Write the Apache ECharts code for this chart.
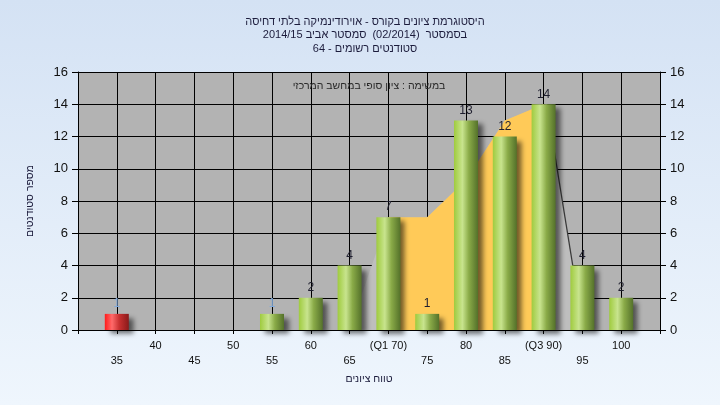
<!DOCTYPE html>
<html>
<head>
<meta charset="utf-8">
<script src="https://cdn.jsdelivr.net/npm/echarts@6/dist/echarts.min.js"></script>
<style>
html,body{margin:0;padding:0;}
#c{width:720px;height:405px;}
</style>
</head>
<body>
<div id="c"></div>
<script>
// ---- data ----
const grades = [35, 40, 45, 50, 55, 60, 65, 70, 75, 80, 85, 90, 95, 100];
const counts = [1, 0, 0, 0, 1, 2, 4, 7, 1, 13, 12, 14, 4, 2];
const tickValues = [35, 40, 45, 50, 55, 60, 65, 70, 75, 80, 85, 90, 95, 100];
const tickTexts = ['35', '40', '45', '50', '55', '60', '65', '(Q1 70)', '75', '80', '85', '(Q3 90)', '95', '100'];
const iqrX = [70, 75, 80, 85, 90];
const iqrY = [7, 7, 9.3, 13, 14];
const envX = [65, 70, 75, 80, 85, 90.4, 95.1];
const envY = [0, 7, 7, 9.3, 13, 14, 0];
const edgeX = [90.4, 95.1];
const edgeY = [14, 0];
const titleLines = [
  'היסטוגרמת ציונים בקורס - אוירודינמיקה בלתי דחיסה',
  'בסמסטר  (02/2014)  סמסטר אביב 2014/15',
  'סטודנטים רשומים - 64'
];
const subtitle = 'במשימה : ציון סופי במחשב המרכזי';
const xName = 'טווח ציונים';
const yName = 'מספר סטודנטים';
const passGrade = 55;

const rtl = s => '\u202B' + s + '\u202C';
const FONT = '"Liberation Sans", Arial, sans-serif';

const green = new echarts.graphic.LinearGradient(0, 0, 1, 0, [
  {offset: 0, color: '#9fcb3e'},
  {offset: 0.35, color: '#c8e48e'},
  {offset: 0.62, color: '#8aab48'},
  {offset: 1, color: '#54712a'}
]);
const red = new echarts.graphic.LinearGradient(0, 0, 1, 0, [
  {offset: 0, color: '#ff1c1c'},
  {offset: 0.3, color: '#ff6a6a'},
  {offset: 0.6, color: '#c83030'},
  {offset: 1, color: '#8a1a1a'}
]);

const barData = [];
grades.forEach((g, i) => {
  if (counts[i] > 0) {
    barData.push({
      value: [g, counts[i]],
      itemStyle: {color: g < passGrade ? red : green},
      label: {color: g <= passGrade ? '#7fa9dc' : '#1e1e2e'}
    });
  }
});

const labelFor = v => {
  const k = tickValues.indexOf(v);
  if (k < 0) return '';
  return (k % 2 === 0 ? '\n' : '') + tickTexts[k];
};

const chart = echarts.init(document.getElementById('c'));
chart.setOption({
  animation: false,
  backgroundColor: new echarts.graphic.LinearGradient(0, 0, 0, 1, [
    {offset: 0, color: '#d4e2f4'},
    {offset: 1, color: '#eff6fd'}
  ]),
  textStyle: {fontFamily: FONT},
  title: {
    text: titleLines.map(rtl).join('\n'),
    left: 360, top: 10, textAlign: 'center',
    textStyle: {fontSize: 11, fontWeight: 'normal', color: '#1c1c3c', lineHeight: 13.5, fontFamily: FONT}
  },
  graphic: [{
    type: 'text', x: 369, y: 86, z: 100,
    style: {text: rtl(subtitle), fill: '#2a2a2a', font: '10.5px ' + FONT, textAlign: 'center', textVerticalAlign: 'middle'}
  }],
  grid: {left: 78, right: 60, top: 72, bottom: 75, show: true, backgroundColor: '#b3b3b3', borderWidth: 0},
  xAxis: {
    type: 'value', min: 30, max: 105, interval: 5,
    name: rtl(xName), nameLocation: 'middle', nameGap: 44,
    nameTextStyle: {fontSize: 10.5, color: '#1c1c3c', fontFamily: FONT},
    axisLine: {show: true, lineStyle: {color: '#000', width: 1}},
    axisTick: {show: true, length: 4, lineStyle: {color: '#000'}},
    splitLine: {show: true, lineStyle: {color: '#000', width: 1}},
    axisLabel: {formatter: labelFor, fontSize: 11, color: '#111', margin: 8, lineHeight: 15, showMinLabel: true, showMaxLabel: true}
  },
  yAxis: [{
    type: 'value', min: 0, max: 16, interval: 2, position: 'left',
    name: rtl(yName), nameLocation: 'middle', nameGap: 42, nameRotate: 90,
    nameTextStyle: {fontSize: 10.5, color: '#1c1c3c', fontFamily: FONT},
    axisLine: {show: true, lineStyle: {color: '#000'}},
    axisTick: {show: true, length: 6, lineStyle: {color: '#000'}},
    splitLine: {show: true, lineStyle: {color: '#000', width: 1}},
    axisLabel: {fontSize: 13, color: '#111', margin: 10}
  }, {
    type: 'value', min: 0, max: 16, interval: 2, position: 'right',
    axisLine: {show: true, lineStyle: {color: '#000'}},
    axisTick: {show: true, length: 6, lineStyle: {color: '#000'}},
    splitLine: {show: false},
    axisLabel: {fontSize: 13, color: '#111', margin: 10}
  }],
  series: [{
    type: 'line', z: 2, symbol: 'none', silent: true,
    data: envX.map((x, i) => [x, envY[i]]),
    lineStyle: {width: 0},
    areaStyle: {color: '#bebebe', opacity: 1}
  }, {
    type: 'line', z: 2, symbol: 'none', silent: true,
    data: edgeX.map((x, i) => [x, edgeY[i]]),
    lineStyle: {width: 1.3, color: '#3a3a3a'}
  }, {
    type: 'line', z: 2, symbol: 'none', silent: true,
    data: iqrX.map((x, i) => [x, iqrY[i]]),
    lineStyle: {width: 0},
    areaStyle: {color: '#ffca58', opacity: 1}
  }, {
    type: 'bar', z: 3, barWidth: 24,
    data: barData,
    itemStyle: {shadowColor: 'rgba(0,0,0,0.55)', shadowBlur: 5, shadowOffsetX: 5, shadowOffsetY: 4},
    label: {show: true, position: 'top', distance: 4, fontSize: 12, fontFamily: FONT}
  }]
});
</script>
</body>
</html>
